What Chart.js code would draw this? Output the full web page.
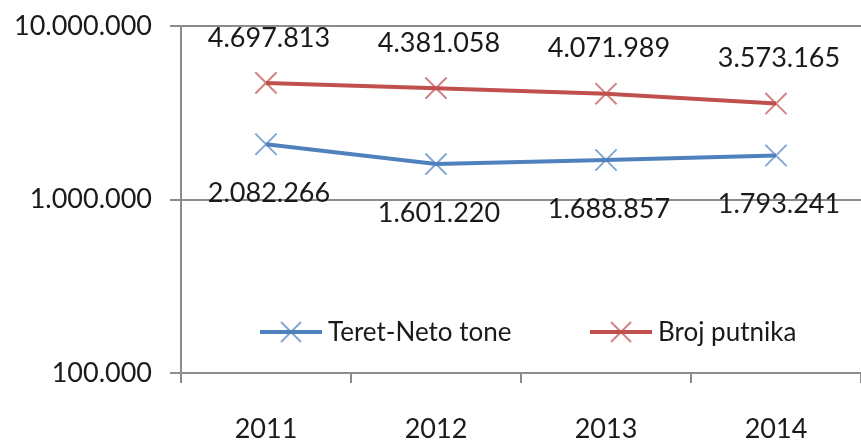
<!DOCTYPE html>
<html>
<head>
<meta charset="utf-8">
<script src="https://cdn.jsdelivr.net/npm/chart.js@4/dist/chart.umd.min.js"></script>
<style>
html,body{margin:0;padding:0;background:#fff;}
#wrap{width:861px;height:442px;position:relative;}
</style>
</head>
<body>
<div id="wrap"><canvas id="c"></canvas></div>
<script>
const categories = ['2011', '2012', '2013', '2014'];
const teretNetoTone = [2082266, 1601220, 1688857, 1793241];
const brojPutnika = [4697813, 4381058, 4071989, 3573165];
const seriesNames = ['Teret-Neto tone', 'Broj putnika'];
const yTickValues = [100000, 1000000, 10000000];

const FONT = "Lato, 'Open Sans', sans-serif";
function fmt(v){ return String(Math.round(v)).replace(/\B(?=(\d{3})+(?!\d))/g, '.'); }

const dataLabels = {
  id: 'dataLabels',
  afterDatasetsDraw(chart){
    const ctx = chart.ctx;
    ctx.save();
    ctx.font = "27px " + FONT;
    ctx.fillStyle = '#1a1a1a';
    ctx.textAlign = 'center';
    ctx.textBaseline = 'middle';
    chart.data.datasets.forEach((ds, i) => {
      const meta = chart.getDatasetMeta(i);
      meta.data.forEach((pt, j) => {
        ctx.fillText(fmt(ds.data[j]), pt.x + 3, pt.y + ds.labelOffset);
      });
    });
    ctx.restore();
  }
};

const insideLegend = {
  id: 'insideLegend',
  afterDraw(chart){
    const ctx = chart.ctx;
    const y = 332;
    const starts = [260, 590];
    ctx.save();
    chart.data.datasets.forEach((ds, i) => {
      const x0 = starts[i];
      ctx.strokeStyle = ds.borderColor;
      ctx.lineWidth = 4;
      ctx.beginPath(); ctx.moveTo(x0, y); ctx.lineTo(x0 + 62, y); ctx.stroke();
      ctx.strokeStyle = ds.pointBorderColor;
      ctx.lineWidth = 2;
      const o = 10;
      ctx.beginPath();
      ctx.moveTo(x0 + 31 - o, y - o); ctx.lineTo(x0 + 31 + o, y + o);
      ctx.moveTo(x0 + 31 - o, y + o); ctx.lineTo(x0 + 31 + o, y - o);
      ctx.stroke();
      ctx.font = "26px " + FONT;
      ctx.fillStyle = '#1a1a1a';
      ctx.textAlign = 'left';
      ctx.textBaseline = 'middle';
      ctx.fillText(ds.label, x0 + 68, y + 1);
    });
    ctx.restore();
  }
};

new Chart(document.getElementById('c'), {
  type: 'line',
  data: {
    labels: categories,
    datasets: [
      {
        label: seriesNames[0],
        data: teretNetoTone,
        borderColor: '#4F81BD',
        pointBorderColor: 'rgba(79,129,189,0.7)',
        pointBackgroundColor: 'rgba(79,129,189,0.7)',
        borderWidth: 4,
        pointStyle: 'crossRot',
        pointRadius: 15,
        pointBorderWidth: 2,
        pointHoverRadius: 15,
        tension: 0,
        labelOffset: 49
      },
      {
        label: seriesNames[1],
        data: brojPutnika,
        borderColor: '#C0504D',
        pointBorderColor: 'rgba(192,80,77,0.7)',
        pointBackgroundColor: 'rgba(192,80,77,0.7)',
        borderWidth: 4,
        pointStyle: 'crossRot',
        pointRadius: 15,
        pointBorderWidth: 2,
        pointHoverRadius: 15,
        tension: 0,
        labelOffset: -45
      }
    ]
  },
  options: {
    responsive: true,
    maintainAspectRatio: false,
    animation: false,
    events: [],
    layout: { autoPadding: false, padding: { top: 26, right: 0, left: 0, bottom: 0 } },
    plugins: { legend: { display: false }, tooltip: { enabled: false } },
    scales: {
      x: {
        type: 'category',
        offset: true,
        grid: { display: true, drawOnChartArea: false, drawTicks: true, tickLength: 10, offset: true, color: '#8c8c8c', lineWidth: 2 },
        border: { display: true, color: '#8c8c8c', width: 2 },
        ticks: { font: { family: FONT, size: 27 }, color: '#1a1a1a', padding: 30, maxRotation: 0 },
        afterFit(s){ s.height = 69; s.paddingLeft = 0; s.paddingRight = 0; }
      },
      y: {
        type: 'logarithmic',
        min: 100000,
        max: 10000000,
        afterBuildTicks(s){ s.ticks = yTickValues.map(v => ({ value: v })); },
        grid: { color: '#8c8c8c', lineWidth: 2, tickLength: 11, drawTicks: true },
        border: { display: true, color: '#8c8c8c', width: 2 },
        ticks: { font: { family: FONT, size: 27 }, color: '#1a1a1a', padding: 18, callback: v => fmt(v) },
        afterFit(s){ s.width = 181; s.paddingTop = 0; s.paddingBottom = 0; }
      }
    }
  },
  plugins: [dataLabels, insideLegend]
});
</script>
</body>
</html>
